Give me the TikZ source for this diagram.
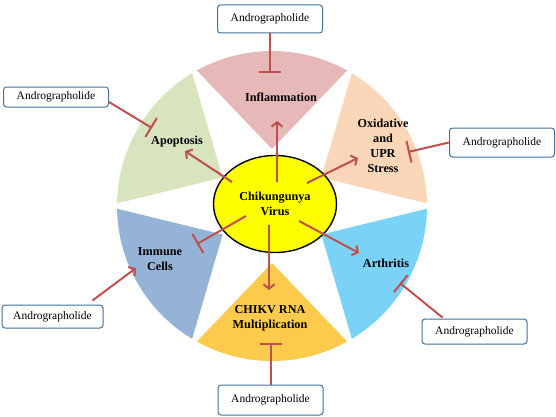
\documentclass[tikz,border=0pt]{standalone}
\usepackage{fontspec}
\setmainfont{Liberation Serif}
\usetikzlibrary{shapes,arrows.meta,positioning,calc}

\definecolor{inflamcol}{HTML}{E6B9B8}
\definecolor{apopcol}{HTML}{D7E4BD}
\definecolor{oxidcol}{HTML}{FAD6B8}
\definecolor{immunecol}{HTML}{95B3D7}
\definecolor{arthcol}{HTML}{7AD3F7}
\definecolor{rnacol}{HTML}{FDCB4C}
\definecolor{virusyellow}{HTML}{FFFF00}
\definecolor{linkcol}{HTML}{BE504D}
\definecolor{drugborder}{HTML}{41719C}

\begin{document}
\begin{tikzpicture}[
    x=1pt, y=1pt,
    drug/.style={draw=drugborder, line width=1pt, rounded corners=3pt, fill=white, minimum width=105pt, inner sep=1pt, font=\fontsize{11.5}{13}\selectfont},
    lbl/.style={align=center, font=\fontsize{12.2}{15}\selectfont\bfseries},
    act/.style={draw=linkcol, line width=2pt, -{Straight Barb[length=4.5pt,width=11pt]}},
    inhib/.style={draw=linkcol, line width=2pt, -{Bar[width=22pt]}}
  ]
  \useasboundingbox (0,0) rectangle (556,416);
  \coordinate (c) at (272,210);

  % exploded sectors around the virus
  \foreach \ang/\col in {90/inflamcol, 150/apopcol, 30/oxidcol, 210/immunecol, 330/arthcol, 270/rnacol}
    \fill[\col] ($(c)+(\ang:57)$) -- ($(c)+({\ang-29}:155)$) arc[start angle=\ang-29, end angle=\ang+29, radius=155pt] -- cycle;

  \node[ellipse, draw, line width=1.4pt, fill=virusyellow, minimum width=123pt, minimum height=97pt, inner sep=0pt, lbl] (virus) at (275,212) {Chikungunya\\Virus};

  % effects
  \node[lbl] (inflam) at (281,319) {Inflammation};
  \node[lbl] (apop) at (177,274) {Apoptosis};
  \node[lbl] (oxid) at (383,270.5) {Oxidative\\and\\UPR\\Stress};
  \node[lbl] (immune) at (160,156.5) {Immune\\Cells};
  \node[lbl] (arth) at (386,153) {Arthritis};
  \node[lbl] (rna) at (270,97.5) {CHIKV RNA\\Multiplication};

  % drug boxes
  \node[drug, minimum height=28pt] (d1) at (270,397) {Andrographolide};
  \node[drug, minimum height=20pt] (d2) at (56,319) {Andrographolide};
  \node[drug, minimum height=29pt] (d3) at (502,273.5) {Andrographolide};
  \node[drug, minimum height=23pt, minimum width=101pt] (d4) at (52.5,99.5) {Andrographolide};
  \node[drug, minimum height=25pt] (d5) at (474.5,84.5) {Andrographolide};
  \node[drug, minimum height=30pt] (d6) at (270.5,16) {Andrographolide};

  % ends of the links
  \coordinate (v1) at (277,234); \coordinate (t1) at (277,295);
  \coordinate (v2) at (232,234); \coordinate (t2) at (185,265);
  \coordinate (v3) at (307,233); \coordinate (t3) at (358,258);
  \coordinate (v4) at (246,200); \coordinate (t4) at (197,172);
  \coordinate (v5) at (299,195); \coordinate (t5) at (359,163);
  \coordinate (v6) at (269,191); \coordinate (t6) at (269,126);
  \coordinate (b2) at (152,288);
  \coordinate (b3) at (408,264);
  \coordinate (a4) at (136,148);
  \coordinate (b5) at (400,133);

  \draw[act] (v1) -- (t1);
  \draw[act] (v2) -- (t2);
  \draw[act] (v3) -- (t3);
  \draw[inhib] (v4) -- (t4);
  \draw[act] (v5) -- (t5);
  \draw[act] (v6) -- (t6);

  \draw[inhib] (d1.south) -- ++(0,-39);
  \draw[inhib] ([yshift=-5pt]d2.east) -- (b2);
  \draw[inhib] (d3.west) -- (b3);
  \draw[act] ([xshift=40pt,yshift=4pt]d4.north) -- (a4);
  \draw[inhib] ([xshift=-32pt,yshift=1pt]d5.north) -- (b5);
  \draw[inhib] (d6.north) -- ++(0,42);
\end{tikzpicture}
\end{document}
